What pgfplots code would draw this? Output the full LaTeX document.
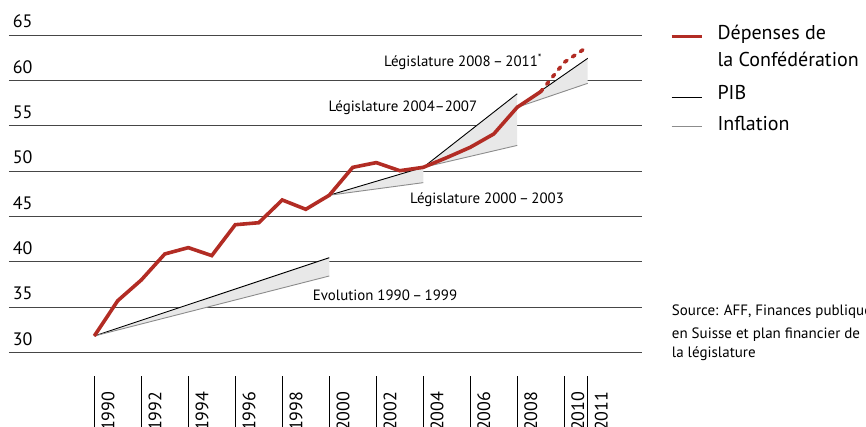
\documentclass[border=0pt]{standalone}
\usepackage{fontspec}
\setmainfont{PT Sans}
\usepackage{pgfplots}
\pgfplotsset{compat=1.18}
\definecolor{cred}{RGB}{178,44,36}
\definecolor{cfill}{RGB}{232,232,232}
\definecolor{cinf}{RGB}{140,140,140}
\definecolor{cgrid}{RGB}{70,70,70}
\begin{document}
\begin{tikzpicture}[x=1pt,y=1pt]
\begin{axis}[
  at={(9pt,0pt)}, anchor=south west,
  scale only axis, width=633pt, height=391.7pt,
  xmin=1986.37, xmax=2013.31, ymin=21.78, ymax=65,
  axis line style={draw=none},
  ytick={30,35,40,45,50,55,60,65},
  yticklabels={30,35,40,45,50,55,60,65},
  ymajorgrids, major grid style={cgrid, line width=0.9pt},
  ytick style={draw=none},
  yticklabel style={anchor=south west, inner sep=0pt, xshift=3.7pt, yshift=7pt, font=\fontsize{18}{20}\selectfont},
  xtick={1990,1992,1994,1996,1998,2000,2002,2004,2006,2008,2010,2011},
  xticklabels={1990,1992,1994,1996,1998,2000,2002,2004,2006,2008,2010,2011},
  xtick pos=bottom, tick align=inside, major tick length=51.3pt,
  xtick style={black, line width=0.9pt},
  xticklabel style={xshift=13.7pt, yshift=35.5pt, rotate=90, anchor=east, inner sep=0pt, font=\fontsize{18}{20}\selectfont},
]
% wedges
\addplot[fill=cfill, draw=none] coordinates {(1990,31.82) (2000,40.46) (2000,38.44)} --cycle;
\addplot[fill=cfill, draw=none] coordinates {(2000,47.35) (2004,50.43) (2004,48.74)} --cycle;
\addplot[fill=cfill, draw=none] coordinates {(2004,50.43) (2008,58.55) (2008,52.85)} --cycle;
\addplot[fill=cfill, draw=none] coordinates {(2008,57.06) (2011,62.46) (2011,59.70)} --cycle;
% PIB
\addplot[black, line width=0.9pt] coordinates {(1990,31.82) (2000,40.46)};
\addplot[black, line width=0.9pt] coordinates {(2000,47.35) (2004,50.43)};
\addplot[black, line width=0.9pt] coordinates {(2004,50.43) (2008,58.55)};
\addplot[black, line width=0.9pt] coordinates {(2008,57.06) (2011,62.46)};
% Inflation
\addplot[cinf, line width=0.9pt] coordinates {(1990,31.82) (2000,38.44)};
\addplot[cinf, line width=0.9pt] coordinates {(2000,47.35) (2004,48.74)};
\addplot[cinf, line width=0.9pt] coordinates {(2004,50.43) (2008,52.85)};
\addplot[cinf, line width=0.9pt] coordinates {(2008,57.06) (2011,59.70)};
% Dépenses
\addplot[cred, line width=3.6pt, line join=miter] coordinates {
(1990,31.82) (1991,35.72) (1992,38.00) (1993,40.87) (1994,41.57) (1995,40.69)
(1996,44.10) (1997,44.32) (1998,46.83) (1999,45.80) (2000,47.35) (2001,50.43)
(2002,50.95) (2003,50.06) (2004,50.43) (2005,51.50) (2006,52.64) (2007,54.11)
(2008,57.06) (2009,58.78)};
\addplot[cred, line width=3.6pt, line cap=round, dash pattern=on 3pt off 6.5pt] coordinates {
(2009,58.78) (2010,62.02) (2011,63.75)};
\end{axis}
% annotations
\begin{scope}[every node/.style={anchor=base west, inner sep=0pt, font=\fontsize{14.9}{16}\selectfont}]
\node at (384,360.3) {Législature 2008\,–\,2011\textsuperscript{*}};
\node at (328.3,315.3) {Législature 2004–2007};
\node at (410,223.7) {Législature 2000\,–\,2003};
\node at (312.7,126) {Evolution 1990\,–\,1999};
\end{scope}
% legend
\draw[cred, line width=3.4pt] (671.7,390.3) -- (701.7,390.3);
\draw[black, line width=0.9pt] (671.7,329.7) -- (701.7,329.7);
\draw[cinf, line width=0.9pt] (671.7,301) -- (701.7,301);
\begin{scope}[every node/.style={anchor=base west, inner sep=0pt, font=\fontsize{20}{22}\selectfont}]
\node at (717.3,387.7) {Dépenses de};
\node at (717.3,360.3) {la Confédération};
\node at (717.3,327) {PIB};
\node at (717.3,296.3) {Inflation};
\end{scope}
\begin{scope}[every node/.style={anchor=base west, inner sep=0pt, font=\fontsize{15}{17}\selectfont}]
\node at (671.7,111.3) {Source: AFF, Finances publiques};
\node at (671.7,88.7) {en Suisse et plan financier de};
\node at (671.7,69) {la législature};
\end{scope}
\pgfresetboundingbox
\useasboundingbox (0,0) rectangle (866,427);
\end{tikzpicture}
\end{document}
